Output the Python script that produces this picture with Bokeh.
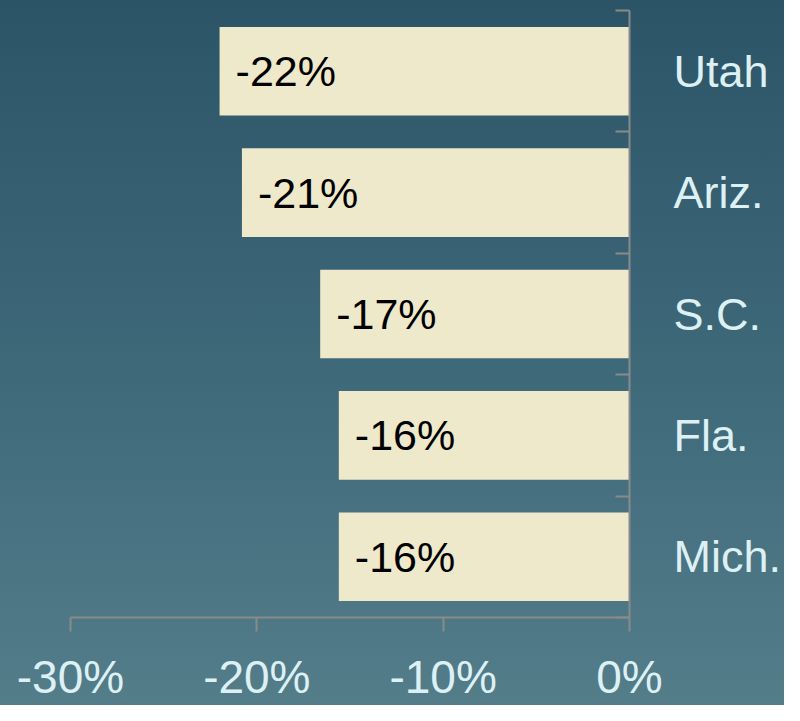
from bokeh.plotting import figure
from bokeh.models import ColumnDataSource, FixedTicker, PrintfTickFormatter, LinearAxis, Range1d
from bokeh.core.properties import value
from bokeh.embed import file_html
from bokeh.resources import INLINE

# Data (bottom to top)
states = ["Mich.", "Fla.", "S.C.", "Ariz.", "Utah"]
changes = [-15.6, -15.6, -16.6, -20.8, -22.0]
labels = ["-16%", "-16%", "-17%", "-21%", "-22%"]
x_ticks = [-30, -20, -10, 0]

FONT = "Liberation Sans"
TXT = "#ddf1f4"
AXIS = "#8a8a8a"

ypos = [i + 0.5 for i in range(len(states))]
src = ColumnDataSource(dict(y=ypos, x=changes, lab=labels))

p = figure(width=784, height=705, output_backend="svg", toolbar_location=None,
           x_range=Range1d(-30, 0), y_range=Range1d(0, len(states)),
           x_axis_location=None, y_axis_location=None,
           min_border_left=70, min_border_top=10, min_border_right=10, min_border_bottom=10)
p.styles = {"background": "linear-gradient(to bottom, #2c5467 0%, #3f6a7a 55%, #547d8a 100%)"}
p.border_fill_color = None
p.background_fill_color = None
p.outline_line_color = None
p.xgrid.visible = False
p.ygrid.visible = False

p.hbar(y="y", left=0, right="x", height=0.73, source=src,
       fill_color="#eee9cb", line_color=None)
p.text(x="x", y="y", text="lab", source=src, x_offset=16,
       text_font=value(FONT), text_font_size="43px", text_color="#000000",
       text_align="left", text_baseline="middle")

xa = LinearAxis(ticker=FixedTicker(ticks=x_ticks), formatter=PrintfTickFormatter(format="%d%%"),
                bounds=(-30, 0))
xa.axis_line_color = AXIS
xa.axis_line_width = 2
xa.major_tick_line_color = AXIS
xa.major_tick_line_width = 2
xa.major_tick_in = 0
xa.major_tick_out = 14
xa.minor_tick_line_color = None
xa.major_label_standoff = 19
xa.major_label_text_font = FONT
xa.major_label_text_font_size = "46px"
xa.major_label_text_color = TXT
p.add_layout(xa, "below")

ya = LinearAxis(ticker=FixedTicker(ticks=ypos, minor_ticks=list(range(len(states) + 1))),
                bounds=(0, len(states)))
ya.major_label_overrides = {y: s for y, s in zip(ypos, states)}
ya.axis_line_color = AXIS
ya.axis_line_width = 2
ya.major_tick_line_color = None
ya.minor_tick_line_color = AXIS
ya.minor_tick_line_width = 2
ya.minor_tick_in = 14
ya.minor_tick_out = 0
ya.major_tick_in = 0
ya.major_tick_out = 0
ya.major_label_standoff = 44
ya.major_label_text_font = FONT
ya.major_label_text_font_size = "45px"
ya.major_label_text_color = TXT
p.add_layout(ya, "right")

open("out.html", "w").write(file_html(p, INLINE))
